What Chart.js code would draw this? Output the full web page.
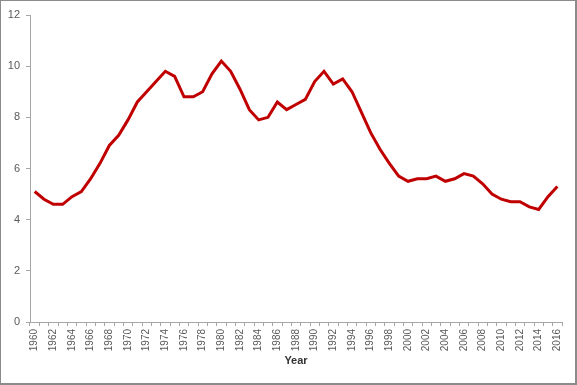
<!DOCTYPE html>
<html>
<head>
<meta charset="utf-8">
<script src="https://cdn.jsdelivr.net/npm/chart.js@4/dist/chart.umd.min.js"></script>
<style>
  body { margin: 0; background: #fff; }
  .wrap { position: relative; width: 577px; height: 385px; }
  .frame {
    position: absolute; left: 0; top: 0; width: 577px; height: 385px;
    box-sizing: border-box; border: 1px solid #8c8c8c;
    border-right-width: 2px; border-bottom-width: 2px; pointer-events: none;
  }
</style>
</head>
<body>
<div class="wrap">
  <canvas id="chart" width="577" height="385"></canvas>
  <div class="frame"></div>
</div>
<script>
// years 1960..2016
const years = [
  1960, 1961, 1962, 1963, 1964, 1965, 1966, 1967, 1968, 1969,
  1970, 1971, 1972, 1973, 1974, 1975, 1976, 1977, 1978, 1979,
  1980, 1981, 1982, 1983, 1984, 1985, 1986, 1987, 1988, 1989,
  1990, 1991, 1992, 1993, 1994, 1995, 1996, 1997, 1998, 1999,
  2000, 2001, 2002, 2003, 2004, 2005, 2006, 2007, 2008, 2009,
  2010, 2011, 2012, 2013, 2014, 2015, 2016
];

const values = [
  5.1, 4.8, 4.6, 4.6, 4.9, 5.1, 5.6, 6.2, 6.9, 7.3,
  7.9, 8.6, 9.0, 9.4, 9.8, 9.6, 8.8, 8.8, 9.0, 9.7,
  10.2, 9.8, 9.1, 8.3, 7.9, 8.0, 8.6, 8.3, 8.5, 8.7,
  9.4, 9.8, 9.3, 9.5, 9.0, 8.2, 7.4, 6.75, 6.2, 5.7,
  5.5, 5.6, 5.6, 5.7, 5.5, 5.6, 5.8, 5.7, 5.4, 5.0,
  4.8, 4.7, 4.7, 4.5, 4.4, 4.9, 5.3
];

const yTicks = [0, 2, 4, 6, 8, 10, 12];

const axisGrey = "#a6a6a6";
const textGrey = "#595959";

new Chart(document.getElementById("chart"), {
  type: "line",
  data: {
    labels: years.map(String),
    datasets: [{
      data: values,
      borderColor: "#c00000",
      borderWidth: 3,
      pointRadius: 0,
      tension: 0,
      fill: false
    }]
  },
  options: {
    responsive: false,
    animation: false,
    layout: { padding: { top: 15, right: 15, bottom: 13, left: 0 } },
    plugins: { legend: { display: false }, tooltip: { enabled: false } },
    scales: {
      x: {
        offset: true,
        grid: {
          offset: true,
          drawOnChartArea: false,
          drawTicks: true,
          tickLength: 4,
          color: axisGrey
        },
        border: { color: axisGrey },
        ticks: {
          autoSkip: false,
          minRotation: 90,
          maxRotation: 90,
          padding: 3,
          color: textGrey,
          font: { family: "Liberation Sans", size: 10 },
          callback: function (v, i) {
            return years[i] % 2 === 0 ? String(years[i]) : "";
          }
        },
        title: {
          display: true,
          text: "Year",
          color: "#333333",
          font: { family: "Liberation Sans", size: 11, weight: "bold" }
        },
        afterFit: function (s) { s.height = 50; }
      },
      y: {
        min: 0,
        max: 12,
        afterBuildTicks: function (s) { s.ticks = yTicks.map(v => ({ value: v })); },
        grid: {
          drawOnChartArea: false,
          drawTicks: true,
          tickLength: 4,
          color: axisGrey
        },
        border: { color: axisGrey },
        ticks: {
          padding: 6,
          color: textGrey,
          font: { family: "Liberation Sans", size: 11 }
        },
        afterFit: function (s) { s.width = 30; }
      }
    }
  }
});
</script>
</body>
</html>
